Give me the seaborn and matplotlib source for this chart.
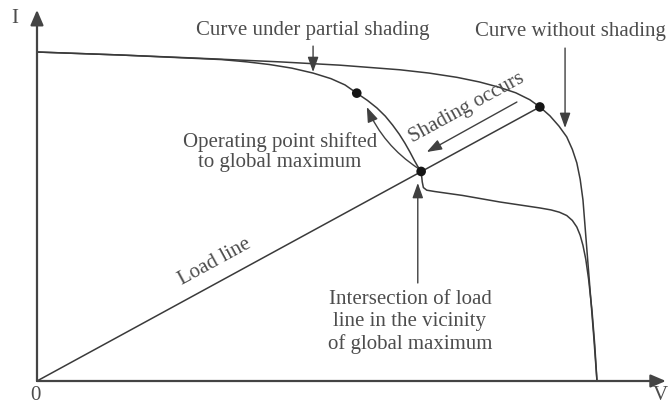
import matplotlib
matplotlib.use("Agg")
import matplotlib.pyplot as plt
import seaborn as sns
import pandas as pd

# Normalised units: open-circuit voltage = 100, short-circuit current = 100
v_unshaded = [0, 14.8, 29.1, 43.4, 54.1, 64.8, 70.0, 75.0, 79.0, 82.5, 85.5,
              88.0, 89.8, 91.6, 93.2, 94.6, 95.6, 96.4, 97.0, 97.5, 98.1,
              98.75, 99.4, 100]
i_unshaded = [100, 99.1, 98.1, 97.0, 96.0, 94.6, 93.6, 92.3, 90.9, 89.3, 87.6,
              85.5, 83.3, 80.6, 77.5, 74.2, 70.4, 66.3, 61.3, 55.0, 42.0,
              28.0, 14.0, 0]

v_shaded = [0, 14.8, 29.1, 33.0, 37.5, 41.5, 45.5, 49.3, 52.5, 55.0, 57.1,
            59.0, 60.7, 62.2, 63.5, 64.7, 65.7, 66.6, 67.4, 68.0, 68.6,
            68.8, 69.0, 69.6, 71.0, 76.0, 82.7, 89.8, 91.8, 93.3, 94.6,
            95.6, 96.4, 97.0, 97.5, 98.0, 98.5, 99.1, 99.6, 100]
i_shaded = [100, 99.1, 98.0, 97.7, 97.0, 96.2, 95.1, 93.6, 91.9, 90.0, 87.5,
            85.3, 83.0, 80.5, 77.8, 75.0, 72.3, 69.6, 67.0, 65.2, 63.7,
            60.5, 58.8, 58.0, 57.6, 56.4, 54.4, 52.6, 52.0, 51.3, 50.3,
            48.8, 46.8, 44.3, 41.2, 37.0, 31.0, 21.6, 11.0, 0]

v_load = [0, 89.8]
i_load = [0, 83.3]

v_points = [89.8, 68.6, 57.1]
i_points = [83.3, 63.7, 87.5]

sns.set_theme(style="white")
plt.rcParams["font.family"] = ["Liberation Serif", "DejaVu Serif"]

TXT = "#4d4d4d"
LINE = "#3a3a3a"

fig = plt.figure(figsize=(6.7, 4.08), dpi=100)
ax = fig.add_axes([0, 0, 1, 1])
ax.set_xlim(-6.607, 113.04)
ax.set_ylim(-8.207, 115.81)
ax.axis("off")

curves = pd.concat([
    pd.DataFrame({"V": v_unshaded, "I": i_unshaded, "curve": "unshaded"}),
    pd.DataFrame({"V": v_shaded, "I": i_shaded, "curve": "shaded"}),
    pd.DataFrame({"V": v_load, "I": i_load, "curve": "load"}),
], ignore_index=True)

sns.lineplot(data=curves, x="V", y="I", units="curve", estimator=None,
             sort=False, color=LINE, linewidth=1.1, ax=ax, legend=False)
sns.scatterplot(x=v_points, y=i_points, color="#151515", s=48,
                edgecolor="none", ax=ax, zorder=5)

# axes with arrow heads
ax_arrow = dict(arrowstyle="-|>,head_length=0.7,head_width=0.3",
                color="#444444", lw=1.6, mutation_scale=13,
                shrinkA=0, shrinkB=0)
ax.annotate("", xy=(112.3, 0), xytext=(0, 0), arrowprops=ax_arrow)
ax.annotate("", xy=(0, 112.8), xytext=(0, 0), arrowprops=ax_arrow)

fs = 15
ax.text(-3.9, 110.3, "I", fontsize=fs, color=TXT, ha="center", va="center")
ax.text(-0.36, -4.3, "0", fontsize=fs, color=TXT, ha="center", va="center")
ax.text(111.4, -4.3, "V", fontsize=fs, color=TXT, ha="center", va="center")

arr = dict(arrowstyle="-|>,head_length=0.7,head_width=0.25", color="#404040",
           lw=1.0, mutation_scale=13, shrinkA=0, shrinkB=0)

ax.text(49.3, 106.4, "Curve under partial shading", fontsize=fs,
        color=TXT, ha="center", va="center")
ax.annotate("", xy=(49.3, 93.9), xytext=(49.3, 101.8), arrowprops=arr)

ax.text(95.2, 106.1, "Curve without shading", fontsize=fs,
        color=TXT, ha="center", va="center")
ax.annotate("", xy=(94.3, 76.9), xytext=(94.3, 101.2), arrowprops=arr)

ax.text(43.4, 69.6, "Operating point shifted\nto global maximum",
        fontsize=fs, color=TXT, ha="center", va="center", linespacing=1.05)
ax.annotate("", xy=(58.9, 83.3), xytext=(68.0, 64.7),
            arrowprops=dict(arr, connectionstyle="arc3,rad=-0.15"))

ax.text(76.8, 83.0, "Shading occurs", fontsize=fs, color=TXT,
        ha="center", va="center", rotation=28.6)
ax.annotate("", xy=(69.6, 69.6), xytext=(85.7, 84.8), arrowprops=arr)

ax.text(31.8, 36.2, "Load line", fontsize=fs, color=TXT,
        ha="center", va="center", rotation=28.6)

ax.annotate("", xy=(68.0, 60.2), xytext=(68.0, 29.8), arrowprops=arr)
ax.text(66.6, 17.9, "Intersection of load\nline in the vicinity\nof global maximum",
        fontsize=fs, color=TXT, ha="center", va="center", linespacing=1.2)

fig.savefig("out.png", dpi=100)
